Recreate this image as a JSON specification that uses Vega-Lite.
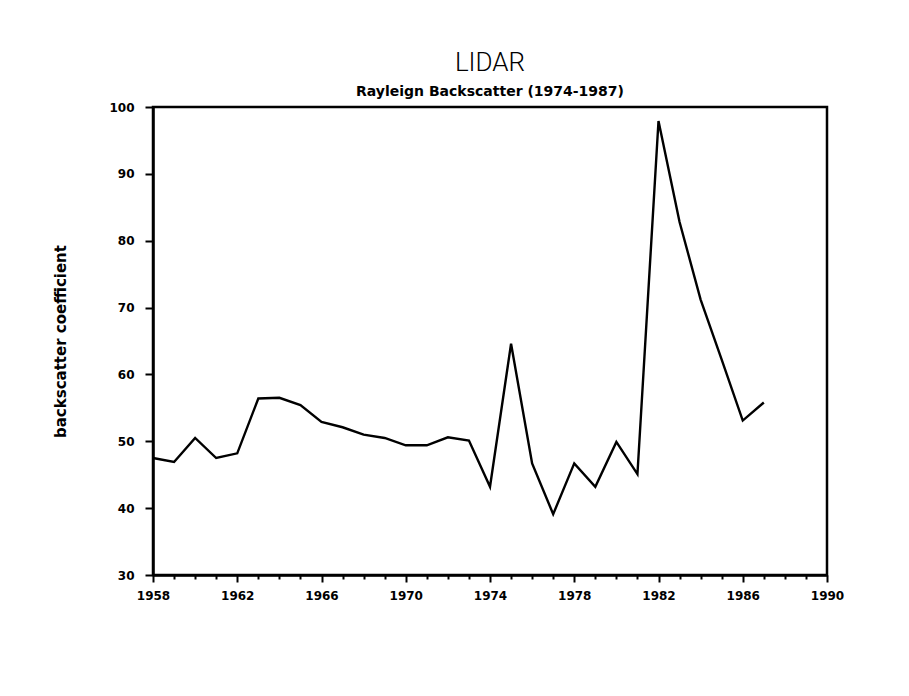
{
  "$schema": "https://vega.github.io/schema/vega-lite/v6.json",
  "width": 674,
  "height": 468,
  "autosize": {"type": "none"},
  "padding": {"left": 153, "top": 107, "right": 82, "bottom": 121},
  "background": "white",
  "title": {
    "text": "LIDAR",
    "subtitle": "Rayleign Backscatter (1974-1987)",
    "anchor": "middle",
    "font": "Roboto",
    "fontSize": 26,
    "fontWeight": 300,
    "color": "black",
    "subtitleFont": "DejaVu Sans",
    "subtitleFontSize": 14,
    "subtitleFontWeight": "bold",
    "subtitleColor": "black",
    "subtitlePadding": 9,
    "offset": 2
  },
  "data": {
    "values": [
      {"year": 1958, "value": 47.5},
      {"year": 1959, "value": 46.9},
      {"year": 1960, "value": 50.5},
      {"year": 1961, "value": 47.5},
      {"year": 1962, "value": 48.2},
      {"year": 1963, "value": 56.4},
      {"year": 1964, "value": 56.5},
      {"year": 1965, "value": 55.4},
      {"year": 1966, "value": 52.9},
      {"year": 1967, "value": 52.1},
      {"year": 1968, "value": 51.0},
      {"year": 1969, "value": 50.5},
      {"year": 1970, "value": 49.4},
      {"year": 1971, "value": 49.4},
      {"year": 1972, "value": 50.6},
      {"year": 1973, "value": 50.1},
      {"year": 1974, "value": 43.2},
      {"year": 1975, "value": 64.6},
      {"year": 1976, "value": 46.7},
      {"year": 1977, "value": 39.1},
      {"year": 1978, "value": 46.7},
      {"year": 1979, "value": 43.2},
      {"year": 1980, "value": 49.9},
      {"year": 1981, "value": 45.1},
      {"year": 1982, "value": 97.9},
      {"year": 1983, "value": 82.8},
      {"year": 1984, "value": 71.2},
      {"year": 1985, "value": 62.2},
      {"year": 1986, "value": 53.1},
      {"year": 1987, "value": 55.8}
    ]
  },
  "mark": {"type": "line", "color": "black", "strokeWidth": 2.4, "strokeJoin": "miter"},
  "encoding": {
    "x": {
      "field": "year",
      "type": "quantitative",
      "scale": {"domain": [1958, 1990], "nice": false, "zero": false},
      "axis": {
        "title": null,
        "values": [1958,1959,1960,1961,1962,1963,1964,1965,1966,1967,1968,1969,1970,1971,1972,1973,1974,1975,1976,1977,1978,1979,1980,1981,1982,1983,1984,1985,1986,1987,1988,1989,1990],
        "format": "d",
        "labelExpr": "datum.value % 4 === 2 ? datum.label : ''",
        "labelOverlap": false,
        "labelFlush": false,
        "tickSize": {"condition": {"test": "datum.value % 4 === 2", "value": 7}, "value": 4},
        "labelPadding": 8
      }
    },
    "y": {
      "field": "value",
      "type": "quantitative",
      "scale": {"domain": [30, 100], "nice": false, "zero": false},
      "axis": {
        "title": "backscatter coefficient",
        "values": [30, 40, 50, 60, 70, 80, 90, 100],
        "tickSize": 8,
        "labelPadding": 11,
        "titlePadding": 40
      }
    }
  },
  "config": {
    "view": {"stroke": "black", "strokeWidth": 2.5},
    "axis": {
      "grid": false,
      "domainColor": "black",
      "domainWidth": 2.5,
      "tickColor": "black",
      "tickWidth": 2,
      "labelFont": "DejaVu Sans",
      "labelFontSize": 12,
      "labelFontWeight": "bold",
      "labelColor": "black",
      "titleFont": "DejaVu Sans",
      "titleFontSize": 15,
      "titleFontWeight": "bold",
      "titleColor": "black"
    }
  }
}
